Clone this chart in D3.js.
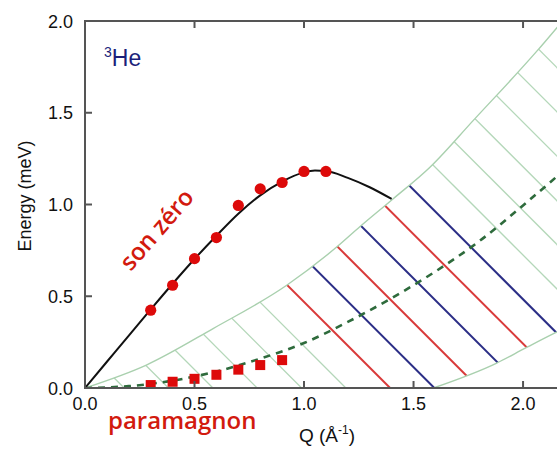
<!DOCTYPE html>
<html><head><meta charset="utf-8">
<script src="https://cdn.jsdelivr.net/npm/d3@7"></script>
<style>body{margin:0;background:#fff}svg{display:block}</style>
</head><body>
<svg id="c" width="557" height="449"></svg>
<script>
// ---- data ----
const zeroSoundQ = [0.3,0.4,0.5,0.6,0.7,0.8,0.9,1.0,1.1];
const zeroSoundE = [0.424,0.56,0.705,0.82,0.995,1.085,1.12,1.18,1.18];
const zeroCurveQ = [0,0.1,0.2,0.3,0.4,0.5,0.6,0.7,0.8,0.9,1.0,1.05,1.1,1.2,1.3,1.4];
const zeroCurveE = [0,0.143,0.286,0.428,0.568,0.703,0.83,0.95,1.05,1.125,1.175,1.185,1.183,1.145,1.094,1.03];
const paraQ = [0.3,0.4,0.5,0.6,0.7,0.8,0.9];
const paraE = [0.016,0.034,0.05,0.072,0.10,0.125,0.152];
const paraCurveQ = [0,0.2,0.4,0.6,0.8,1.0,1.2,1.4,1.6,1.8,2.0,2.2];
const paraCurveE = [0,0.01,0.04,0.09,0.16,0.245,0.36,0.49,0.635,0.8,0.995,1.2];
const upperQ = [0,0.28,0.585,0.921,1.149,1.256,1.406,1.575,1.772,2.064,2.25];
const upperE = [0,0.125,0.324,0.56,0.768,0.88,1.03,1.203,1.457,1.837,2.1];
const lowerQ = [1.59,1.88,2.01,2.146,2.25];
const lowerE = [0,0.136,0.217,0.30,0.36];
const hatchQ0 = [0.179,0.381,0.584,0.786,0.989,1.191,1.393,1.595,1.798,2.0,2.202,2.405,2.607,2.81,3.01,3.214,3.416,3.618];
const hatchKind = ["g","g","g","g","g","g","r","b","r","b","r","b","g","g","g","g","g","g"];
const xTicks = [0,0.5,1.0,1.5,2.0];
const yTicks = [0,0.5,1.0,1.5,2.0];

// ---- layout ----
const svg = d3.select("#c");
const x = d3.scaleLinear().domain([0,2.155]).range([85,557]);
const y = d3.scaleLinear().domain([0,2]).range([388,21]);
const zip = (a,b)=>a.map((v,i)=>[v,b[i]]);
const line = d3.line().x(d=>x(d[0])).y(d=>y(d[1])).curve(d3.curveMonotoneX);
const defs = svg.append("defs");
defs.append("clipPath").attr("id","plot").append("rect")
  .attr("x",85).attr("y",21).attr("width",472).attr("height",367);
const regionPath = line(zip(upperQ,upperE)) + "L" +
  line(zip(lowerQ,lowerE).reverse()).slice(1) + "L" + x(0) + "," + y(0) + "Z";
defs.append("clipPath").attr("id","region").append("path").attr("d",regionPath);

const g = svg.append("g").attr("clip-path","url(#plot)");
const hg = g.append("g").attr("clip-path","url(#region)");
const colors = {g:"#b4d7b9", r:"#d93a3a", b:"#2b2e86"};
hg.selectAll("line").data(zip(hatchQ0,hatchKind)).join("line")
  .attr("x1",d=>x(d[0])).attr("y1",y(0))
  .attr("x2",d=>x(d[0])-600).attr("y2",y(0)-600)
  .attr("stroke",d=>colors[d[1]])
  .attr("stroke-width",d=>d[1]==="g"?1.3:2);
// region boundaries
g.append("path").attr("d",line(zip(upperQ,upperE))).attr("fill","none")
  .attr("stroke","#a9d0ae").attr("stroke-width",1.4);
g.append("path").attr("d",line(zip(lowerQ,lowerE))).attr("fill","none")
  .attr("stroke","#a9d0ae").attr("stroke-width",1.4);
// paramagnon dashed
g.append("path").attr("d",line(zip(paraCurveQ,paraCurveE))).attr("fill","none")
  .attr("stroke","#2e6b3c").attr("stroke-width",2.6).attr("stroke-dasharray","7,6");
// zero sound
g.append("path").attr("d",line(zip(zeroCurveQ,zeroCurveE))).attr("fill","none")
  .attr("stroke","#111").attr("stroke-width",2);
g.selectAll("circle").data(zip(zeroSoundQ,zeroSoundE)).join("circle")
  .attr("cx",d=>x(d[0])).attr("cy",d=>y(d[1])).attr("r",5.6).attr("fill","#dd0a0a");
g.selectAll("rect.sq").data(zip(paraQ,paraE)).join("rect").attr("class","sq")
  .attr("x",d=>x(d[0])-5).attr("y",d=>y(d[1])-5).attr("width",10).attr("height",10)
  .attr("fill","#dd0a0a");

// axes frame
const ax = svg.append("g").attr("stroke","#555").attr("stroke-width",2).attr("fill","none");
ax.append("line").attr("x1",85).attr("x2",85).attr("y1",20).attr("y2",389);
ax.append("line").attr("x1",84).attr("x2",557).attr("y1",388).attr("y2",388);
ax.append("line").attr("x1",84).attr("x2",557).attr("y1",21).attr("y2",21);
// ticks
xTicks.slice(1).forEach(t=>{
  ax.append("line").attr("x1",x(t)).attr("x2",x(t)).attr("y1",388).attr("y2",381);
  ax.append("line").attr("x1",x(t)).attr("x2",x(t)).attr("y1",21).attr("y2",28);
});
yTicks.slice(1,-1).forEach(t=>{
  ax.append("line").attr("x1",85).attr("x2",92).attr("y1",y(t)).attr("y2",y(t));
});
const font = "Liberation Sans, Arial, sans-serif";
svg.append("g").selectAll("text").data(xTicks).join("text")
  .attr("x",d=>x(d)).attr("y",410).attr("text-anchor","middle")
  .attr("font-family",font).attr("font-size",18).attr("fill","#111")
  .text(d=>d.toFixed(1));
svg.append("g").selectAll("text").data(yTicks).join("text")
  .attr("x",73).attr("y",d=>y(d)+6.5).attr("text-anchor","end")
  .attr("font-family",font).attr("font-size",18).attr("fill","#111")
  .text(d=>d.toFixed(1));
// axis labels
svg.append("text").attr("transform","translate(31,196) rotate(-90)")
  .attr("text-anchor","middle").attr("font-family",font).attr("font-size",18).attr("fill","#111")
  .text("Energy (meV)");
const xl = svg.append("text").attr("x",327).attr("y",442).attr("text-anchor","middle")
  .attr("font-family",font).attr("font-size",19).attr("fill","#111");
xl.append("tspan").text("Q  (Å");
xl.append("tspan").attr("font-size",12).attr("dy",-8).text("-1");
xl.append("tspan").attr("dy",8).text(")");
// annotations
const he = svg.append("text").attr("x",104).attr("y",66).attr("font-family",font)
  .attr("font-size",23).attr("fill","#1b1f7a");
he.append("tspan").attr("font-size",14).attr("dy",-9).text("3");
he.append("tspan").attr("dy",9).text("He");
const cfont = "Open Sans, Lato, sans-serif";
svg.append("text").attr("transform","translate(163,235) rotate(-49)")
  .attr("text-anchor","middle").attr("font-family",cfont).attr("font-size",24)
  .attr("font-weight",600).attr("fill","#d21a0e").text("son zéro");
svg.append("text").attr("x",108).attr("y",429).attr("font-family",cfont)
  .attr("font-size",24).attr("font-weight",600).attr("fill","#d21a0e").text("paramagnon");
</script>
</body></html>
